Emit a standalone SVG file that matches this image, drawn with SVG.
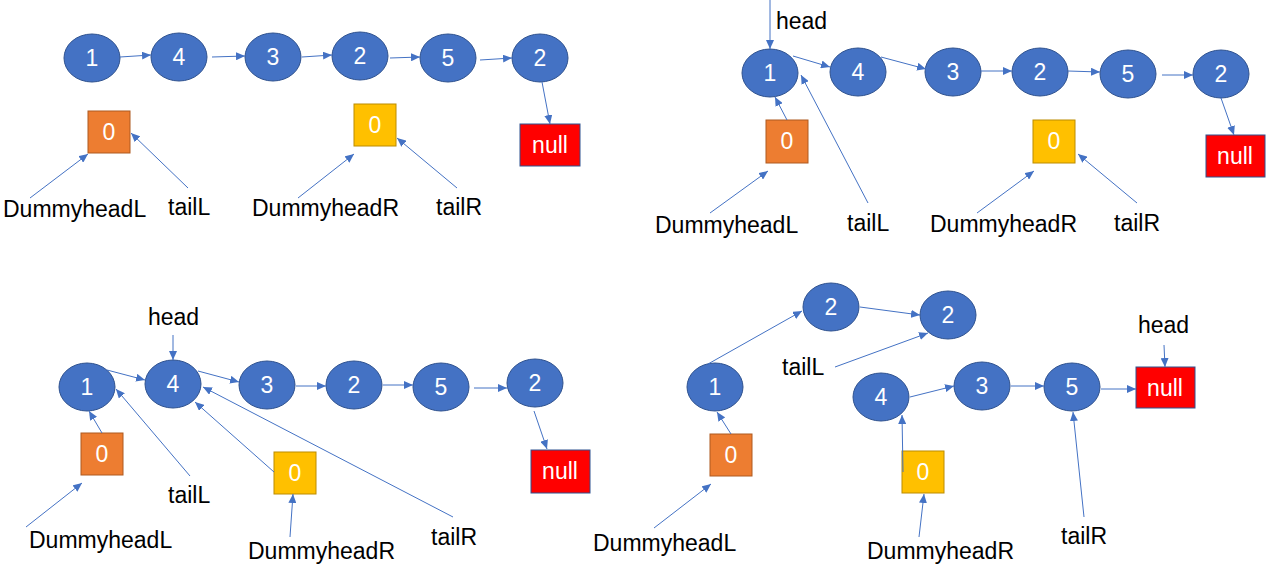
<svg xmlns="http://www.w3.org/2000/svg" width="1266" height="586" viewBox="0 0 1266 586">
<defs>
<marker id="ah" markerUnits="userSpaceOnUse" markerWidth="9" markerHeight="8" refX="9" refY="4" orient="auto"><path d="M0,0 L9,4 L0,8 z" fill="#4472C4"/></marker>
<style>
.n ellipse{fill:#4472C4;stroke:#2F528F;stroke-width:1}
.n text,.b text{font-family:"Liberation Sans",Arial,sans-serif;font-size:23px;fill:#fff;text-anchor:middle}
.o rect{fill:#ED7D31;stroke:#AE5A21}
.y rect{fill:#FFC000;stroke:#BC8C00}
.r rect{fill:#FF0000;stroke:#2F528F}
.lb{font-family:"Liberation Sans",Arial,sans-serif;font-size:23px;fill:#000}
#connectors line{stroke:#4472C4;stroke-width:1;marker-end:url(#ah)}
</style>
</defs>
<rect width="1266" height="586" fill="#fff"/>

<!-- Panel 1 -->
<g id="p1-n1" class="n"><ellipse cx="92" cy="58" rx="28" ry="24"/><text x="92" y="66">1</text></g>
<g id="p1-n4" class="n"><ellipse cx="179" cy="57" rx="28" ry="24"/><text x="179" y="65">4</text></g>
<g id="p1-n3" class="n"><ellipse cx="273" cy="57" rx="28" ry="24"/><text x="273" y="65">3</text></g>
<g id="p1-n2a" class="n"><ellipse cx="360" cy="56" rx="28" ry="24"/><text x="360" y="64">2</text></g>
<g id="p1-n5" class="n"><ellipse cx="448" cy="58" rx="28" ry="24"/><text x="448" y="66">5</text></g>
<g id="p1-n2b" class="n"><ellipse cx="540" cy="58" rx="28" ry="24"/><text x="540" y="66">2</text></g>
<g id="p1-dl" class="b o"><rect x="88" y="111" width="42" height="42"/><text x="109" y="140">0</text></g>
<g id="p1-dr" class="b y"><rect x="354" y="104" width="42" height="42"/><text x="375" y="133">0</text></g>
<g id="p1-null" class="b r"><rect x="520" y="124" width="60" height="42"/><text x="550" y="153">null</text></g>
<g id="p1-labels">
<text class="lb" x="3" y="217">DummyheadL</text>
<text class="lb" x="168" y="215">tailL</text>
<text class="lb" x="252" y="216">DummyheadR</text>
<text class="lb" x="436" y="215">tailR</text>
</g>

<!-- Panel 2 -->
<g id="p2-n1" class="n"><ellipse cx="770" cy="73" rx="28" ry="24"/><text x="770" y="81">1</text></g>
<g id="p2-n4" class="n"><ellipse cx="858" cy="72" rx="28" ry="24"/><text x="858" y="80">4</text></g>
<g id="p2-n3" class="n"><ellipse cx="953" cy="72" rx="28" ry="24"/><text x="953" y="80">3</text></g>
<g id="p2-n2a" class="n"><ellipse cx="1040" cy="72" rx="28" ry="24"/><text x="1040" y="80">2</text></g>
<g id="p2-n5" class="n"><ellipse cx="1128" cy="74" rx="28" ry="24"/><text x="1128" y="82">5</text></g>
<g id="p2-n2b" class="n"><ellipse cx="1221" cy="74" rx="28" ry="24"/><text x="1221" y="82">2</text></g>
<g id="p2-dl" class="b o"><rect x="766" y="120" width="42" height="43"/><text x="787" y="149">0</text></g>
<g id="p2-dr" class="b y"><rect x="1033" y="120" width="42" height="43"/><text x="1054" y="149">0</text></g>
<g id="p2-null" class="b r"><rect x="1206" y="135" width="59" height="42"/><text x="1235" y="164">null</text></g>
<g id="p2-labels">
<text class="lb" x="776" y="29">head</text>
<text class="lb" x="655" y="233">DummyheadL</text>
<text class="lb" x="847" y="231">tailL</text>
<text class="lb" x="930" y="232">DummyheadR</text>
<text class="lb" x="1114" y="231">tailR</text>
</g>

<!-- Panel 3 -->
<g id="p3-n1" class="n"><ellipse cx="87" cy="387" rx="28" ry="24"/><text x="87" y="395">1</text></g>
<g id="p3-n4" class="n"><ellipse cx="173" cy="384" rx="28" ry="24"/><text x="173" y="392">4</text></g>
<g id="p3-n3" class="n"><ellipse cx="267" cy="385" rx="28" ry="24"/><text x="267" y="393">3</text></g>
<g id="p3-n2a" class="n"><ellipse cx="354" cy="385" rx="28" ry="24"/><text x="354" y="393">2</text></g>
<g id="p3-n5" class="n"><ellipse cx="441" cy="387" rx="28" ry="24"/><text x="441" y="395">5</text></g>
<g id="p3-n2b" class="n"><ellipse cx="535" cy="383" rx="28" ry="24"/><text x="535" y="391">2</text></g>
<g id="p3-dl" class="b o"><rect x="81" y="433" width="42" height="42"/><text x="102" y="462">0</text></g>
<g id="p3-dr" class="b y"><rect x="274" y="452" width="42" height="42"/><text x="295" y="481">0</text></g>
<g id="p3-null" class="b r"><rect x="531" y="450" width="59" height="43"/><text x="560" y="479">null</text></g>
<g id="p3-labels">
<text class="lb" x="148" y="325">head</text>
<text class="lb" x="29" y="548">DummyheadL</text>
<text class="lb" x="168" y="503">tailL</text>
<text class="lb" x="248" y="559">DummyheadR</text>
<text class="lb" x="431" y="545">tailR</text>
</g>

<!-- Panel 4 -->
<g id="p4-n2t" class="n"><ellipse cx="831" cy="307" rx="28" ry="24"/><text x="831" y="315">2</text></g>
<g id="p4-n2r" class="n"><ellipse cx="948" cy="315" rx="28" ry="24"/><text x="948" y="323">2</text></g>
<g id="p4-n1" class="n"><ellipse cx="715" cy="387" rx="28" ry="24"/><text x="715" y="395">1</text></g>
<g id="p4-n4" class="n"><ellipse cx="881" cy="397" rx="28" ry="24"/><text x="881" y="405">4</text></g>
<g id="p4-n3" class="n"><ellipse cx="982" cy="386" rx="28" ry="24"/><text x="982" y="394">3</text></g>
<g id="p4-n5" class="n"><ellipse cx="1072" cy="387" rx="28" ry="24"/><text x="1072" y="395">5</text></g>
<g id="p4-null" class="b r"><rect x="1136" y="367" width="59" height="41"/><text x="1165" y="396">null</text></g>
<g id="p4-dl" class="b o"><rect x="710" y="434" width="42" height="42"/><text x="731" y="463">0</text></g>
<g id="p4-dr" class="b y"><rect x="902" y="451" width="42" height="42"/><text x="923" y="480">0</text></g>
<g id="p4-labels">
<text class="lb" x="1138" y="333">head</text>
<text class="lb" x="782" y="375">tailL</text>
<text class="lb" x="593" y="551">DummyheadL</text>
<text class="lb" x="867" y="559">DummyheadR</text>
<text class="lb" x="1061" y="544">tailR</text>
</g>

<g id="connectors">
<!-- panel 1 -->
<line x1="120" y1="57" x2="151" y2="55"/>
<line x1="212" y1="57" x2="245" y2="56"/>
<line x1="302" y1="57" x2="332" y2="55"/>
<line x1="390" y1="58" x2="420" y2="57"/>
<line x1="480" y1="60" x2="512" y2="58"/>
<line x1="542" y1="82" x2="550" y2="124"/>
<line x1="30" y1="198" x2="88" y2="154"/>
<line x1="188" y1="188" x2="131" y2="133"/>
<line x1="298" y1="198" x2="354" y2="154"/>
<line x1="457" y1="188" x2="397" y2="138"/>
<!-- panel 2 -->
<line x1="770" y1="0" x2="770" y2="49"/>
<line x1="793" y1="56" x2="830" y2="67"/>
<line x1="881" y1="57" x2="926" y2="69"/>
<line x1="981" y1="71" x2="1012" y2="71"/>
<line x1="1068" y1="71" x2="1100" y2="72"/>
<line x1="1162" y1="75" x2="1193" y2="75"/>
<line x1="1221" y1="98" x2="1234" y2="135"/>
<line x1="787" y1="120" x2="775" y2="97"/>
<line x1="868" y1="203" x2="801" y2="75"/>
<line x1="710" y1="213" x2="768" y2="171"/>
<line x1="977" y1="213" x2="1034" y2="171"/>
<line x1="1137" y1="203" x2="1078" y2="154"/>
<!-- panel 3 -->
<line x1="173" y1="335" x2="173" y2="360"/>
<line x1="107" y1="370" x2="145" y2="380"/>
<line x1="198" y1="371" x2="239" y2="382"/>
<line x1="296" y1="386" x2="326" y2="386"/>
<line x1="383" y1="385" x2="413" y2="385"/>
<line x1="474" y1="388" x2="507" y2="388"/>
<line x1="534" y1="411" x2="547" y2="449"/>
<line x1="102" y1="433" x2="89" y2="411"/>
<line x1="190" y1="476" x2="116" y2="389"/>
<line x1="274" y1="472" x2="195" y2="402"/>
<line x1="453" y1="517" x2="203" y2="387"/>
<line x1="26" y1="527" x2="82" y2="483"/>
<line x1="290" y1="537" x2="293" y2="494"/>
<!-- panel 4 -->
<line x1="1164" y1="345" x2="1165" y2="367"/>
<line x1="708" y1="364" x2="802" y2="311"/>
<line x1="860" y1="307" x2="920" y2="315"/>
<line x1="835" y1="367" x2="928" y2="333"/>
<line x1="910" y1="397" x2="954" y2="386"/>
<line x1="1011" y1="386" x2="1044" y2="386"/>
<line x1="1101" y1="389" x2="1136" y2="389"/>
<line x1="731" y1="434" x2="717" y2="412"/>
<line x1="903" y1="472" x2="902" y2="415"/>
<line x1="654" y1="528" x2="711" y2="484"/>
<line x1="919" y1="537" x2="924" y2="494"/>
<line x1="1084" y1="517" x2="1073" y2="412"/>
</g>
</svg>
